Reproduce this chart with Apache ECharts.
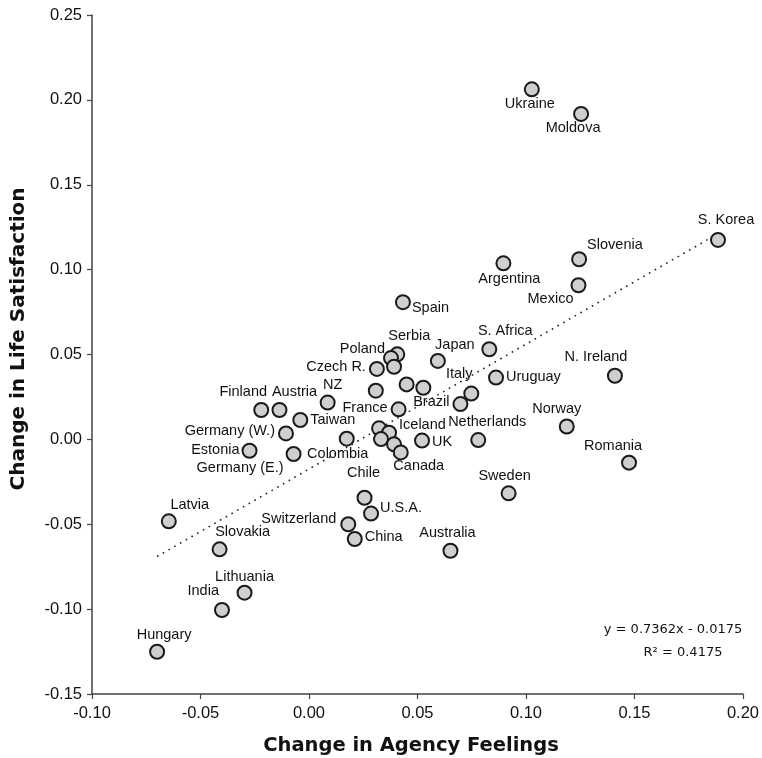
<!DOCTYPE html>
<html>
<head>
<meta charset="utf-8">
<script src="https://cdn.jsdelivr.net/npm/echarts@6/dist/echarts.min.js"></script>
<style>
html,body{margin:0;padding:0;background:#fff;}
#chart{width:762px;height:758px;}
</style>
</head>
<body>
<div id="chart"></div>
<script>
// ---- data ----
const countries = ['Ukraine','Moldova','S. Korea','Slovenia','Mexico','Argentina','Spain','S. Africa','Japan','Serbia','Poland','','Czech R.','','','','Uruguay','N. Ireland','Italy','Brazil','France','NZ','Finland','Austria','Taiwan','Germany (W.)','Colombia','','Iceland','','','Canada','UK','Netherlands','Norway','Romania','Estonia','Germany (E.)','Chile','U.S.A.','Switzerland','China','Australia','Sweden','Latvia','Slovakia','Lithuania','India','Hungary'];
const agencyChange = [0.1027,0.1254,0.1885,0.1245,0.1242,0.0896,0.0433,0.0831,0.0594,0.0407,0.0378,0.0392,0.0313,0.0308,0.0450,0.0527,0.0862,0.1410,0.0748,0.0698,0.0413,0.0086,-0.0220,-0.0136,-0.0040,-0.0106,0.0174,0.0323,0.0369,0.0332,0.0392,0.0423,0.0521,0.0780,0.1188,0.1475,-0.0274,-0.0071,0.0256,0.0286,0.0181,0.0211,0.0652,0.0920,-0.0646,-0.0412,-0.0297,-0.0401,-0.0700];
const lifeSatChange = [0.2062,0.1917,0.1175,0.1061,0.0908,0.1037,0.0808,0.0531,0.0462,0.0501,0.0479,0.0428,0.0415,0.0287,0.0324,0.0304,0.0364,0.0375,0.0270,0.0208,0.0177,0.0217,0.0173,0.0173,0.0114,0.0035,0.0004,0.0065,0.0039,0.0002,-0.0029,-0.0077,-0.0007,-0.0004,0.0076,-0.0137,-0.0067,-0.0086,-0.0344,-0.0437,-0.0500,-0.0587,-0.0656,-0.0318,-0.0483,-0.0648,-0.0903,-0.1005,-0.1251];
const trendX = [-0.0700, 0.1855];
const trendY = [-0.0690, 0.1190];
const xTicks = [-0.10,-0.05,0.00,0.05,0.10,0.15,0.20];
const yTicks = [-0.15,-0.10,-0.05,0.00,0.05,0.10,0.15,0.20,0.25];
const equationText = 'y = 0.7362x - 0.0175';
const r2Text = 'R\u00B2 = 0.4175';

// ---- label placement (style only): [align, dx, dy] relative to the point centre ----
const labelPlace = {
 'Ukraine':['center',-1,16],'Moldova':['center',-7,15],'S. Korea':['center',9,-19],
 'Slovenia':['left',9,-13],'Argentina':['center',7,17],'Mexico':['right',-4,15],
 'Spain':['left',10,7],'S. Africa':['center',17,-17],'Serbia':['center',13,-17],
 'Japan':['center',18,-15],'Poland':['right',-5,-8],'Czech R.':['right',-10,-1],
 'N. Ireland':['center',-18,-18],'Uruguay':['left',11,0],'Italy':['center',-11,-19],
 'Brazil':['right',-10,-1],'France':['right',-10,0],'NZ':['center',6,-17],
 'Finland':['center',-17,-17],'Austria':['center',16,-17],'Taiwan':['left',11,1],
 'Germany (W.)':['right',-10,-1],'Colombia':['center',-8,16],'Iceland':['left',11,-7],
 'Canada':['center',19,15],'UK':['left',11,2],'Netherlands':['center',10,-17],
 'Norway':['center',-9,-16],'Romania':['center',-15,-16],'Estonia':['right',-9,0],
 'Germany (E.)':['right',-9,15],'Chile':['center',0,-24],'U.S.A.':['left',10,-5],
 'Switzerland':['right',-11,-4],'China':['left',11,-1],'Australia':['center',-2,-17],
 'Sweden':['center',-3,-16],'Latvia':['center',22,-15],'Slovakia':['center',24,-16],
 'Lithuania':['center',1,-15],'India':['right',-2,-18],'Hungary':['center',8,-16]
};

const SYM = 14;
const pts = countries.map((n,i)=>{
  const p = labelPlace[n];
  const item = {name:n, value:[agencyChange[i], lifeSatChange[i]]};
  if (p) {
    item.label = {show:true, position:[SYM/2 + p[1], SYM/2 + p[2]], align:p[0], verticalAlign:'middle'};
  } else {
    item.label = {show:false};
  }
  return item;
});

const chart = echarts.init(document.getElementById('chart'), null, {renderer:'canvas'});
const axisCol = '#444';
const tickFont = {fontFamily:'Liberation Sans, Arial, sans-serif', fontSize:16.5, color:'#111'};
chart.setOption({
  animation:false,
  backgroundColor:'#fff',
  grid:{left:92, right:17, top:15, bottom:64, containLabel:false},
  xAxis:{
    type:'value', min:xTicks[0], max:xTicks[xTicks.length-1], interval:0.05,
    axisLine:{show:true, onZero:false, lineStyle:{color:axisCol, width:1.5}},
    axisTick:{show:true, inside:false, length:5, lineStyle:{color:axisCol, width:1.2}},
    splitLine:{show:false},
    axisLabel:{...tickFont, margin:11, formatter:v=>v.toFixed(2)}
  },
  yAxis:{
    type:'value', min:yTicks[0], max:yTicks[yTicks.length-1], interval:0.05,
    axisLine:{show:true, onZero:false, lineStyle:{color:axisCol, width:1.5}},
    axisTick:{show:true, inside:false, length:5, lineStyle:{color:axisCol, width:1.2}},
    splitLine:{show:false},
    axisLabel:{...tickFont, margin:10, formatter:v=>v.toFixed(2)}
  },
  series:[
    {
      type:'line', data:trendX.map((x,i)=>[x,trendY[i]]), symbol:'none', z:1,
      lineStyle:{color:'#222', width:1.6, type:[1.6,5]}, silent:true
    },
    {
      type:'scatter', data:pts, symbol:'circle', symbolSize:SYM, z:3,
      itemStyle:{color:'#cfcfcf', borderColor:'#1a1a1a', borderWidth:2, opacity:1},
      label:{color:'#111', fontSize:14.5, fontFamily:'Liberation Sans, Arial, sans-serif', formatter:'{b}'},
      labelLayout:{hideOverlap:false}
    }
  ],
  graphic:[
    {type:'text', x:18.5, y:339, rotation:Math.PI/2,
     style:{text:'Change in Life Satisfaction', font:'bold 20px "DejaVu Sans", Verdana, sans-serif', fill:'#111', align:'center', verticalAlign:'middle'}},
    {type:'text', x:411, y:746,
     style:{text:'Change in Agency Feelings', font:'bold 19.5px "DejaVu Sans", Verdana, sans-serif', fill:'#111', align:'center', verticalAlign:'middle'}},
    {type:'text', x:673, y:630,
     style:{text:equationText, font:'13px "DejaVu Sans", Verdana, sans-serif', fill:'#111', align:'center', verticalAlign:'middle'}},
    {type:'text', x:683, y:653,
     style:{text:r2Text, font:'13px "DejaVu Sans", Verdana, sans-serif', fill:'#111', align:'center', verticalAlign:'middle'}}
  ]
});
</script>
</body>
</html>
